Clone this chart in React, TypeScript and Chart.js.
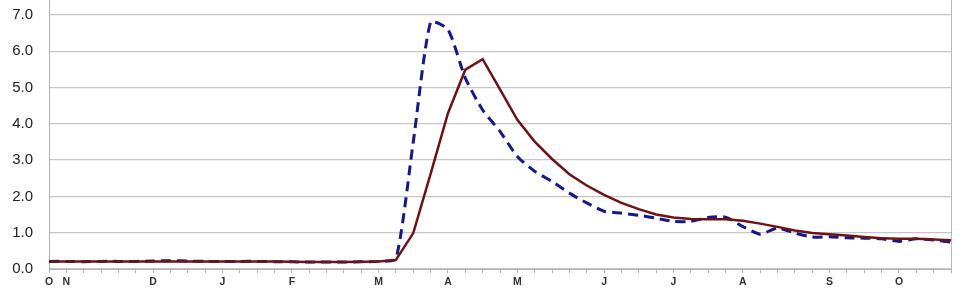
import React, { useEffect, useRef } from "react";
import { Chart, registerables } from "chart.js";

Chart.register(...registerables);

// 53 weekly points, October to October
const tickLabels: string[] = [
  "O", "N", "", "", "", "", "D", "", "", "", "J", "", "", "", "F", "", "", "", "", "M",
  "", "", "", "A", "", "", "", "M", "", "", "", "", "J", "", "", "", "J", "", "", "",
  "A", "", "", "", "", "S", "", "", "", "O", "", "", "",
];

const solidSeries: number[] = [
  0.21, 0.21, 0.21, 0.21, 0.21, 0.21, 0.21, 0.21, 0.21, 0.21,
  0.21, 0.21, 0.21, 0.21, 0.2, 0.19, 0.19, 0.19, 0.2, 0.21,
  0.25, 0.99, 2.62, 4.29, 5.49, 5.78, 4.95, 4.11, 3.51, 3.03,
  2.61, 2.3, 2.04, 1.82, 1.65, 1.5, 1.42, 1.38, 1.37, 1.37,
  1.33, 1.25, 1.16, 1.06, 0.99, 0.96, 0.92, 0.88, 0.85, 0.83,
  0.83, 0.81, 0.79,
];

const dashedSeries: number[] = [
  0.21, 0.21, 0.2, 0.21, 0.21, 0.21, 0.22, 0.23, 0.22, 0.21,
  0.21, 0.21, 0.21, 0.2, 0.2, 0.19, 0.19, 0.19, 0.2, 0.21,
  0.28, 3.5, 6.8, 6.6, 5.26, 4.38, 3.79, 3.1, 2.69, 2.41,
  2.09, 1.82, 1.59, 1.54, 1.48, 1.4, 1.31, 1.31, 1.42, 1.43,
  1.17, 0.96, 1.13, 0.99, 0.88, 0.89, 0.86, 0.85, 0.83, 0.76,
  0.83, 0.8, 0.74,
];

const rightBorder = {
  id: "rightBorder",
  afterDraw(chart: any) {
    const { ctx, chartArea } = chart;
    ctx.save();
    ctx.strokeStyle = "#b8b8b8";
    ctx.lineWidth = 1;
    ctx.beginPath();
    ctx.moveTo(chartArea.right + 0.5, chartArea.top);
    ctx.lineTo(chartArea.right + 0.5, chartArea.bottom);
    ctx.stroke();
    ctx.restore();
  },
};

export default function App() {
  const ref = useRef<HTMLCanvasElement>(null);

  useEffect(() => {
    document.body.style.margin = "0";
    const canvas = ref.current!;
    const chart = new Chart(canvas, {
      type: "line",
      data: {
        labels: tickLabels,
        datasets: [
          {
            data: solidSeries,
            borderColor: "#701214",
            borderWidth: 2.5,
            pointRadius: 0,
            tension: 0,
            fill: false,
          },
          {
            data: dashedSeries,
            borderColor: "#15188a",
            borderWidth: 3,
            borderDash: [10, 6],
            pointRadius: 0,
            tension: 0.2,
            fill: false,
          },
        ],
      },
      options: {
        animation: false,
        responsive: false,
        devicePixelRatio: 1,
        layout: { autoPadding: false, padding: { top: 0, right: 9, bottom: 0, left: 0 } },
        plugins: { legend: { display: false }, tooltip: { enabled: false } },
        scales: {
          x: {
            offset: false,
            grid: {
              drawOnChartArea: false,
              drawTicks: true,
              tickLength: 4,
              color: "#b0b0b0",
            },
            border: { color: "#b0b0b0", width: 1 },
            ticks: {
              autoSkip: false,
              maxRotation: 0,
              minRotation: 0,
              padding: 3,
              color: "#333",
              font: { family: "Liberation Sans", size: 10.5, weight: "bold" },
            },
            afterFit: (axis: any) => {
              axis.height = 28;
              axis.paddingLeft = 0;
              axis.paddingRight = 0;
            },
          },
          y: {
            min: 0,
            max: 7.41,
            ticks: {
              stepSize: 1,
              includeBounds: false,
              padding: 16,
              color: "#222",
              font: { family: "Liberation Sans", size: 15 },
              callback: (v: any) => Number(v).toFixed(1),
            },
            grid: {
              color: "#c6c6c6",
              lineWidth: 1.3,
              drawTicks: false,
            },
            border: { color: "#b0b0b0", width: 1 },
            afterFit: (axis: any) => {
              axis.width = 49;
              axis.paddingTop = 0;
              axis.paddingBottom = 0;
            },
          },
        },
      },
      plugins: [rightBorder],
    });
    return () => chart.destroy();
  }, []);

  return <canvas ref={ref} width={960} height={297} style={{ display: "block" }} />;
}
